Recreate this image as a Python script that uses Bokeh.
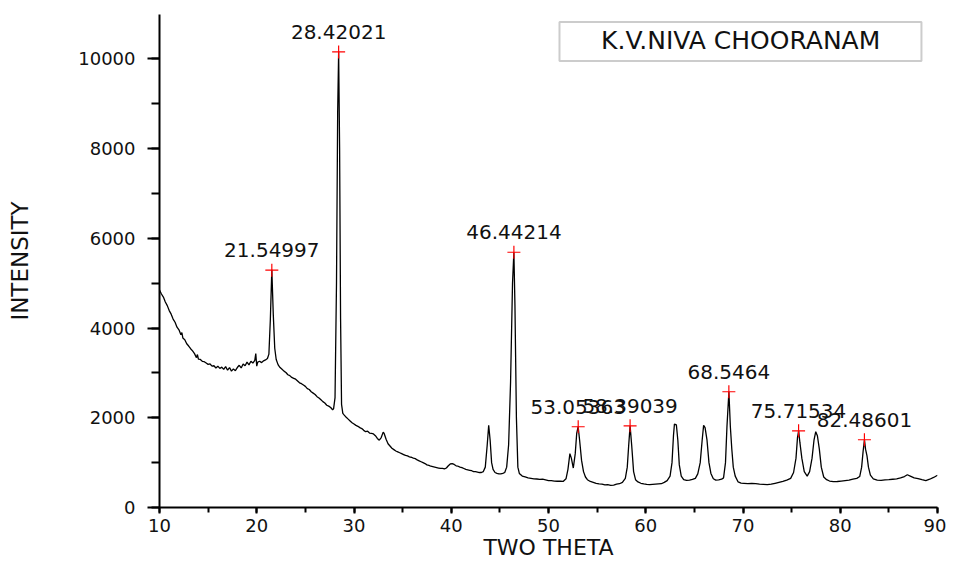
from bokeh.plotting import figure
from bokeh.models import Range1d, BoxAnnotation, Label, ColumnDataSource, SingleIntervalTicker
from bokeh.core.properties import value
from bokeh.embed import file_html
from bokeh.resources import INLINE

# ---------------- data ----------------
two_theta = [
    10.0, 10.2, 10.4, 10.6, 10.8, 11.0, 11.2, 11.4, 11.6, 11.8, 12.0, 12.2, 12.3, 12.4, 12.6, 12.8,
    13.0, 13.2, 13.4, 13.6, 13.8, 13.9, 14.0, 14.2, 14.4, 14.6, 14.8, 15.0, 15.2, 15.4, 15.6, 15.8,
    16.0, 16.2, 16.4, 16.6, 16.8, 17.0, 17.2, 17.4, 17.6, 17.8, 18.0, 18.2, 18.4, 18.6, 18.8, 19.0,
    19.2, 19.4, 19.6, 19.8, 19.9, 20.0, 20.1, 20.3, 20.5, 20.7, 20.9, 21.1, 21.25, 21.4, 21.55, 21.7,
    21.85, 22.0, 22.2, 22.4, 22.6, 22.8, 23.0, 23.2, 23.4, 23.6, 23.8, 24.0, 24.2, 24.4, 24.6, 24.8,
    25.0, 25.2, 25.4, 25.6, 25.8, 26.0, 26.2, 26.4, 26.6, 26.8, 27.0, 27.2, 27.4, 27.6, 27.8, 27.9,
    28.05, 28.2, 28.32, 28.42, 28.52, 28.62, 28.72, 28.85, 29.0, 29.2, 29.4, 29.6, 29.8, 30.0, 30.2, 30.4,
    30.6, 30.8, 31.0, 31.2, 31.4, 31.6, 31.8, 32.0, 32.2, 32.4, 32.6, 32.8, 33.0, 33.1, 33.3, 33.5,
    33.7, 33.9, 34.1, 34.3, 34.5, 34.7, 34.9, 35.1, 35.3, 35.5, 35.7, 35.9, 36.1, 36.3, 36.5, 36.7,
    36.9, 37.1, 37.3, 37.5, 37.7, 37.9, 38.1, 38.3, 38.5, 38.7, 38.9, 39.1, 39.3, 39.5, 39.7, 39.9,
    40.1, 40.3, 40.5, 40.7, 40.9, 41.1, 41.3, 41.5, 41.7, 41.9, 42.1, 42.3, 42.5, 42.7, 42.9, 43.1,
    43.3, 43.5, 43.7, 43.85, 44.0, 44.15, 44.3, 44.5, 44.7, 44.9, 45.1, 45.3, 45.5, 45.7, 45.9, 46.1,
    46.3, 46.44, 46.55, 46.7, 46.85, 47.0, 47.3, 47.6, 47.9, 48.2, 48.5, 48.8, 49.1, 49.4, 49.7, 50.0,
    50.3, 50.6, 50.9, 51.2, 51.5, 51.8, 52.0, 52.2, 52.35, 52.55, 52.75, 52.9, 53.05, 53.2, 53.4, 53.6,
    53.8, 54.0, 54.3, 54.6, 54.9, 55.2, 55.5, 55.8, 56.1, 56.4, 56.7, 57.0, 57.3, 57.6, 57.9, 58.1,
    58.25, 58.39, 58.55, 58.75, 58.95, 59.2, 59.5, 59.8, 60.1, 60.4, 60.7, 61.0, 61.3, 61.6, 61.9, 62.2,
    62.5, 62.7, 62.85, 62.95, 63.15, 63.3, 63.45, 63.65, 63.9, 64.2, 64.5, 64.8, 65.1, 65.35, 65.6, 65.8,
    65.95, 66.1, 66.3, 66.5, 66.7, 66.95, 67.2, 67.5, 67.8, 68.0, 68.2, 68.35, 68.55, 68.7, 68.85, 69.0,
    69.2, 69.5, 69.8, 70.1, 70.5, 70.9, 71.3, 71.7, 72.1, 72.5, 72.9, 73.3, 73.7, 74.1, 74.5, 74.9,
    75.2, 75.45, 75.6, 75.72, 75.85, 76.05, 76.3, 76.6, 76.85, 77.1, 77.3, 77.48, 77.65, 77.85, 78.05, 78.3,
    78.6, 78.9, 79.3, 79.7, 80.1, 80.5, 80.9, 81.3, 81.7, 82.0, 82.2, 82.35, 82.49, 82.6, 82.75, 82.9,
    83.1, 83.4, 83.8, 84.2, 84.6, 85.0, 85.4, 85.8, 86.2, 86.6, 86.9, 87.2, 87.6, 88.0, 88.4, 88.8,
    89.2, 89.6, 90.0,
]
intensity = [
    4850, 4760, 4690, 4580, 4500, 4390, 4310, 4200, 4130, 4020, 3960, 3850, 3900, 3780, 3740, 3650,
    3600, 3540, 3490, 3430, 3340, 3410, 3310, 3300, 3260, 3250, 3220, 3190, 3200, 3150, 3160, 3110,
    3150, 3100, 3130, 3080, 3140, 3060, 3120, 3040, 3090, 3050, 3120, 3170, 3110, 3200, 3160, 3240,
    3180, 3260, 3220, 3280, 3430, 3150, 3240, 3260, 3230, 3270, 3290, 3320, 3420, 4200, 5300, 4300,
    3550, 3300, 3180, 3120, 3080, 3040, 3010, 2960, 2940, 2900, 2880, 2860, 2820, 2780, 2760, 2730,
    2700, 2650, 2630, 2580, 2550, 2520, 2470, 2440, 2400, 2360, 2330, 2280, 2260, 2230, 2180, 2200,
    2450, 5000, 8800, 10150, 8000, 4200, 2300, 2100, 2060, 2010, 1970, 1930, 1890, 1860, 1830, 1810,
    1780, 1760, 1720, 1690, 1700, 1660, 1650, 1640, 1600, 1540, 1500, 1560, 1680, 1650, 1520, 1420,
    1370, 1320, 1290, 1260, 1240, 1220, 1200, 1180, 1160, 1150, 1130, 1120, 1100, 1090, 1060, 1040,
    1020, 1000, 980, 950, 940, 920, 910, 900, 890, 880, 870, 870, 860, 880, 930, 970,
    980, 960, 930, 920, 900, 890, 870, 850, 840, 830, 820, 800, 800, 790, 780, 780,
    800, 900, 1400, 1830, 1500, 1000, 850, 780, 760, 750, 750, 760, 780, 900, 1400, 2800,
    5000, 5690, 4500, 2000, 900, 760, 700, 680, 660, 650, 640, 635, 625, 630, 615, 600,
    600, 590, 585, 590, 580, 640, 850, 1200, 1100, 880, 1200, 1650, 1800, 1500, 1050, 800,
    680, 620, 580, 560, 540, 525, 520, 505, 510, 495, 500, 520, 530, 560, 650, 900,
    1400, 1820, 1400, 800, 620, 570, 540, 525, 515, 510, 515, 520, 525, 530, 560, 600,
    700, 1000, 1600, 1860, 1840, 1500, 950, 700, 620, 605, 610, 625, 650, 750, 1000, 1500,
    1830, 1780, 1500, 1000, 760, 640, 610, 615, 630, 660, 1000, 1800, 2580, 1800, 1300, 900,
    700, 570, 545, 540, 530, 535, 530, 520, 515, 510, 520, 540, 560, 580, 610, 650,
    780, 1100, 1550, 1710, 1450, 1100, 800, 700, 800, 1100, 1500, 1690, 1600, 1300, 900, 680,
    620, 590, 575, 580, 590, 600, 610, 630, 650, 690, 900, 1250, 1510, 1300, 1150, 900,
    720, 640, 610, 605, 615, 620, 630, 640, 660, 690, 730, 700, 660, 645, 620, 600,
    630, 670, 720,
]

peak_x = [21.54997, 28.42021, 46.44214, 53.05363, 58.39039, 68.5464, 75.71534, 82.48601]
peak_y = [5290, 10155, 5690, 1800, 1820, 2580, 1710, 1510]
peak_labels = ["21.54997", "28.42021", "46.44214", "53.05363", "58.39039", "68.5464", "75.71534", "82.48601"]

title_text = "K.V.NIVA CHOORANAM"
x_label = "TWO THETA"
y_label = "INTENSITY"

FONT = "DejaVu Sans"

# ---------------- figure ----------------
p = figure(
    width=946, height=562,
    x_range=Range1d(10, 90), y_range=Range1d(0, 10990),
    output_backend="svg", toolbar_location=None,
    min_border_left=159, min_border_right=9, min_border_top=14, min_border_bottom=53,
)
p.outline_line_color = None
p.xgrid.visible = False
p.ygrid.visible = False
p.background_fill_color = "white"
p.border_fill_color = "white"

p.xaxis.ticker = SingleIntervalTicker(interval=10, num_minor_ticks=2)
p.yaxis.ticker = SingleIntervalTicker(interval=2000, num_minor_ticks=2)

for ax in (p.xaxis[0], p.yaxis[0]):
    ax.axis_line_width = 2
    ax.axis_line_color = "black"
    ax.major_tick_line_width = 2
    ax.minor_tick_line_width = 2
    ax.major_tick_line_color = "black"
    ax.minor_tick_line_color = "black"
    ax.major_tick_in = 0
    ax.minor_tick_in = 0
    ax.major_label_text_font = FONT
    ax.major_label_text_font_size = "18px"
    ax.major_label_text_color = "#111111"
    ax.axis_label_text_font = FONT
    ax.axis_label_text_font_style = "normal"
    ax.axis_label_text_color = "#111111"
    ax.axis_label_text_font_size = "23px"

p.xaxis.axis_label = x_label
p.yaxis.axis_label = y_label
p.xaxis.major_tick_out = 6
p.xaxis.minor_tick_out = 5
p.yaxis.major_tick_out = 12
p.yaxis.minor_tick_out = 8
p.xaxis.major_label_standoff = 5
p.xaxis.axis_label_standoff = 0
p.xaxis.axis_label_text_font_size = "22px"
p.yaxis.major_label_standoff = 12
p.yaxis.axis_label_standoff = 42

# spectrum
src = ColumnDataSource(dict(x=two_theta, y=intensity))
p.line("x", "y", source=src, line_color="black", line_width=1.3)

# peak markers + labels
psrc = ColumnDataSource(dict(x=peak_x, y=peak_y, t=peak_labels))
p.scatter("x", "y", source=psrc, marker="cross", size=13, line_color="red", line_width=1.2)
p.text("x", "y", text="t", source=psrc, text_align="center", text_baseline="middle",
       y_offset=-20, text_font=value(FONT), text_font_size="20px", text_color="#111111")

# title box in the upper right
box = BoxAnnotation(left=51.13, right=88.35, bottom=9956, top=10822,
                    fill_color="white", fill_alpha=1.0, line_color="#555555", line_width=2)
p.add_layout(box)
p.add_layout(Label(x=69.76, y=10400, text=title_text, text_align="center", text_baseline="middle",
                   text_font=FONT, text_font_size="25px", text_color="#111111"))

open("out.html", "w").write(file_html(p, INLINE))
